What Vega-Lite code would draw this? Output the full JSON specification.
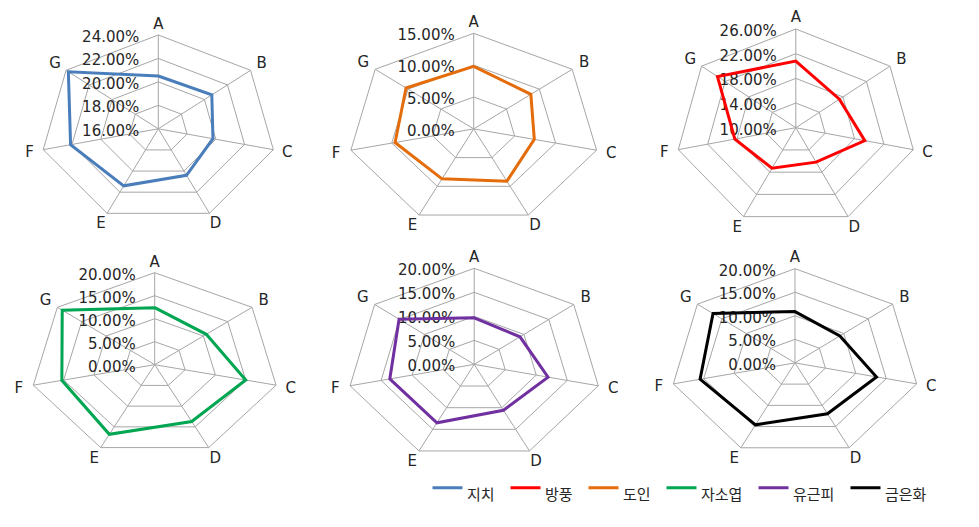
{
  "$schema": "https://vega.github.io/schema/vega-lite/v6.json",
  "padding": 0,
  "background": "white",
  "config": {
    "view": {"stroke": null},
    "legend": {
      "orient": "none",
      "legendX": 431,
      "legendY": 471,
      "direction": "horizontal",
      "symbolType": "stroke",
      "symbolSize": 900,
      "symbolStrokeWidth": 3,
      "labelFont": "Noto Sans CJK KR",
      "labelFontSize": 15,
      "labelColor": "#262626",
      "labelOffset": 3,
      "columnPadding": 9,
      "labelBaseline": "top",
      "title": null
    },
    "text": {"font": "DejaVu Sans", "fontSize": 15, "color": "#262626"}
  },
  "datasets": {
    "vals": [
      {"s": "지치", "c": "A", "v": 0.205}, {"s": "지치", "c": "B", "v": 0.2064}, {"s": "지치", "c": "C", "v": 0.198}, {"s": "지치", "c": "D", "v": 0.204}, {"s": "지치", "c": "E", "v": 0.214}, {"s": "지치", "c": "F", "v": 0.221}, {"s": "지치", "c": "G", "v": 0.238},
      {"s": "도인", "c": "A", "v": 0.098}, {"s": "도인", "c": "B", "v": 0.087}, {"s": "도인", "c": "C", "v": 0.074}, {"s": "도인", "c": "D", "v": 0.091}, {"s": "도인", "c": "E", "v": 0.087}, {"s": "도인", "c": "F", "v": 0.096}, {"s": "도인", "c": "G", "v": 0.103},
      {"s": "방풍", "c": "A", "v": 0.208}, {"s": "방풍", "c": "B", "v": 0.174}, {"s": "방풍", "c": "C", "v": 0.194}, {"s": "방풍", "c": "D", "v": 0.162}, {"s": "방풍", "c": "E", "v": 0.173}, {"s": "방풍", "c": "F", "v": 0.183}, {"s": "방풍", "c": "G", "v": 0.233},
      {"s": "자소엽", "c": "A", "v": 0.124}, {"s": "자소엽", "c": "B", "v": 0.106}, {"s": "자소엽", "c": "C", "v": 0.150}, {"s": "자소엽", "c": "D", "v": 0.137}, {"s": "자소엽", "c": "E", "v": 0.168}, {"s": "자소엽", "c": "F", "v": 0.153}, {"s": "자소엽", "c": "G", "v": 0.190},
      {"s": "유근피", "c": "A", "v": 0.097}, {"s": "유근피", "c": "B", "v": 0.092}, {"s": "유근피", "c": "C", "v": 0.119}, {"s": "유근피", "c": "D", "v": 0.106}, {"s": "유근피", "c": "E", "v": 0.135}, {"s": "유근피", "c": "F", "v": 0.136}, {"s": "유근피", "c": "G", "v": 0.151},
      {"s": "금은화", "c": "A", "v": 0.109}, {"s": "금은화", "c": "B", "v": 0.092}, {"s": "금은화", "c": "C", "v": 0.134}, {"s": "금은화", "c": "D", "v": 0.120}, {"s": "금은화", "c": "E", "v": 0.146}, {"s": "금은화", "c": "F", "v": 0.156}, {"s": "금은화", "c": "G", "v": 0.168}
    ],
    "ticks": [
      {"s": "지치", "t": 0.16}, {"s": "지치", "t": 0.18}, {"s": "지치", "t": 0.20}, {"s": "지치", "t": 0.22}, {"s": "지치", "t": 0.24},
      {"s": "도인", "t": 0}, {"s": "도인", "t": 0.05}, {"s": "도인", "t": 0.10}, {"s": "도인", "t": 0.15},
      {"s": "방풍", "t": 0.10}, {"s": "방풍", "t": 0.14}, {"s": "방풍", "t": 0.18}, {"s": "방풍", "t": 0.22}, {"s": "방풍", "t": 0.26},
      {"s": "자소엽", "t": 0}, {"s": "자소엽", "t": 0.05}, {"s": "자소엽", "t": 0.10}, {"s": "자소엽", "t": 0.15}, {"s": "자소엽", "t": 0.20},
      {"s": "유근피", "t": 0}, {"s": "유근피", "t": 0.05}, {"s": "유근피", "t": 0.10}, {"s": "유근피", "t": 0.15}, {"s": "유근피", "t": 0.20},
      {"s": "금은화", "t": 0}, {"s": "금은화", "t": 0.05}, {"s": "금은화", "t": 0.10}, {"s": "금은화", "t": 0.15}, {"s": "금은화", "t": 0.20}
    ]
  },
  "vconcat": [
    {
      "hconcat": [
        {
          "width": 316, "height": 235,
          "encoding": {
            "x": {"field": "x", "type": "quantitative", "scale": {"domain": [-1.3415, 1.3364], "nice": false, "zero": false}, "axis": null},
            "y": {"field": "y", "type": "quantitative", "scale": {"domain": [-1.1322, 1.3731], "nice": false, "zero": false}, "axis": null}
          },
          "layer": [
            {"data": {"name": "ticks"},
             "transform": [{"filter": "datum.s === '지치' && datum.t > 0.16"}, {"calculate": "[0,1,2,3,4,5,6]", "as": "k"}, {"flatten": ["k"]}, {"calculate": "(datum.t - 0.16) / 0.08", "as": "f"}, {"calculate": "datum.f * sin(datum.k * 2 * PI / 7)", "as": "x"}, {"calculate": "datum.f * cos(datum.k * 2 * PI / 7)", "as": "y"}],
             "mark": {"type": "line", "interpolate": "linear-closed", "stroke": "#a6a6a6", "strokeWidth": 1},
             "encoding": {"detail": {"field": "t"}, "order": {"field": "k"}}},
            {"data": {"name": "vals"},
             "transform": [{"filter": "datum.s === '지치'"}, {"calculate": "indexof('ABCDEFG', datum.c) * 2 * PI / 7", "as": "a"}, {"calculate": "0", "as": "x"}, {"calculate": "0", "as": "y"}, {"calculate": "sin(datum.a)", "as": "x2"}, {"calculate": "cos(datum.a)", "as": "y2"}],
             "mark": {"type": "rule", "stroke": "#a6a6a6", "strokeWidth": 1},
             "encoding": {"x2": {"field": "x2"}, "y2": {"field": "y2"}}},
            {"data": {"name": "ticks"},
             "transform": [{"filter": "datum.s === '지치'"}, {"calculate": "0", "as": "x"}, {"calculate": "(datum.t - 0.16) / 0.08", "as": "y"}],
             "mark": {"type": "text", "align": "right", "baseline": "middle", "dx": -19, "dy": 2},
             "encoding": {"text": {"field": "t", "type": "quantitative", "format": ".2%"}}},
            {"data": {"name": "vals"},
             "transform": [{"filter": "datum.s === '지치'"}, {"calculate": "indexof('ABCDEFG', datum.c) * 2 * PI / 7", "as": "a"}, {"calculate": "1.12 * sin(datum.a)", "as": "x"}, {"calculate": "1.12 * cos(datum.a)", "as": "y"}],
             "mark": {"type": "text", "align": "center", "baseline": "middle"},
             "encoding": {"text": {"field": "c"}}},
            {"data": {"name": "vals"},
             "transform": [{"filter": "datum.s === '지치'"}, {"calculate": "indexof('ABCDEFG', datum.c)", "as": "i"}, {"calculate": "(datum.v - 0.16) / 0.08", "as": "f"}, {"calculate": "datum.f * sin(datum.i * 2 * PI / 7)", "as": "x"}, {"calculate": "datum.f * cos(datum.i * 2 * PI / 7)", "as": "y"}],
             "mark": {"type": "line", "interpolate": "linear-closed", "strokeWidth": 3},
             "encoding": {"order": {"field": "i"}, "color": {"field": "s", "type": "nominal", "title": null, "scale": {"domain": ["지치", "방풍", "도인", "자소엽", "유근피", "금은화"], "range": ["#4a7ebb", "#ff0000", "#e46c0a", "#00a651", "#7030a0", "#000000"]}}}}
          ]
        },
        {
          "width": 316, "height": 235,
          "encoding": {
            "x": {"field": "x", "type": "quantitative", "scale": {"domain": [-1.2516, 1.2563], "nice": false, "zero": false}, "axis": null},
            "y": {"field": "y", "type": "quantitative", "scale": {"domain": [-1.1098, 1.3483], "nice": false, "zero": false}, "axis": null}
          },
          "layer": [
            {"data": {"name": "ticks"},
             "transform": [{"filter": "datum.s === '도인' && datum.t > 0"}, {"calculate": "[0,1,2,3,4,5,6]", "as": "k"}, {"flatten": ["k"]}, {"calculate": "(datum.t - 0) / 0.15", "as": "f"}, {"calculate": "datum.f * sin(datum.k * 2 * PI / 7)", "as": "x"}, {"calculate": "datum.f * cos(datum.k * 2 * PI / 7)", "as": "y"}],
             "mark": {"type": "line", "interpolate": "linear-closed", "stroke": "#a6a6a6", "strokeWidth": 1},
             "encoding": {"detail": {"field": "t"}, "order": {"field": "k"}}},
            {"data": {"name": "vals"},
             "transform": [{"filter": "datum.s === '도인'"}, {"calculate": "indexof('ABCDEFG', datum.c) * 2 * PI / 7", "as": "a"}, {"calculate": "0", "as": "x"}, {"calculate": "0", "as": "y"}, {"calculate": "sin(datum.a)", "as": "x2"}, {"calculate": "cos(datum.a)", "as": "y2"}],
             "mark": {"type": "rule", "stroke": "#a6a6a6", "strokeWidth": 1},
             "encoding": {"x2": {"field": "x2"}, "y2": {"field": "y2"}}},
            {"data": {"name": "ticks"},
             "transform": [{"filter": "datum.s === '도인'"}, {"calculate": "0", "as": "x"}, {"calculate": "(datum.t - 0) / 0.15", "as": "y"}],
             "mark": {"type": "text", "align": "right", "baseline": "middle", "dx": -19, "dy": 2},
             "encoding": {"text": {"field": "t", "type": "quantitative", "format": ".2%"}}},
            {"data": {"name": "vals"},
             "transform": [{"filter": "datum.s === '도인'"}, {"calculate": "indexof('ABCDEFG', datum.c) * 2 * PI / 7", "as": "a"}, {"calculate": "1.12 * sin(datum.a)", "as": "x"}, {"calculate": "1.12 * cos(datum.a)", "as": "y"}],
             "mark": {"type": "text", "align": "center", "baseline": "middle"},
             "encoding": {"text": {"field": "c"}}},
            {"data": {"name": "vals"},
             "transform": [{"filter": "datum.s === '도인'"}, {"calculate": "indexof('ABCDEFG', datum.c)", "as": "i"}, {"calculate": "(datum.v - 0) / 0.15", "as": "f"}, {"calculate": "datum.f * sin(datum.i * 2 * PI / 7)", "as": "x"}, {"calculate": "datum.f * cos(datum.i * 2 * PI / 7)", "as": "y"}],
             "mark": {"type": "line", "interpolate": "linear-closed", "strokeWidth": 3},
             "encoding": {"order": {"field": "i"}, "color": {"field": "s", "type": "nominal", "title": null, "scale": {"domain": ["지치", "방풍", "도인", "자소엽", "유근피", "금은화"], "range": ["#4a7ebb", "#ff0000", "#e46c0a", "#00a651", "#7030a0", "#000000"]}}}}
          ]
        },
        {
          "width": 347, "height": 235,
          "encoding": {
            "x": {"field": "x", "type": "quantitative", "scale": {"domain": [-1.3593, 1.5203], "nice": false, "zero": false}, "axis": null},
            "y": {"field": "y", "type": "quantitative", "scale": {"domain": [-1.0871, 1.2938], "nice": false, "zero": false}, "axis": null}
          },
          "layer": [
            {"data": {"name": "ticks"},
             "transform": [{"filter": "datum.s === '방풍' && datum.t > 0.10"}, {"calculate": "[0,1,2,3,4,5,6]", "as": "k"}, {"flatten": ["k"]}, {"calculate": "(datum.t - 0.10) / 0.16", "as": "f"}, {"calculate": "datum.f * sin(datum.k * 2 * PI / 7)", "as": "x"}, {"calculate": "datum.f * cos(datum.k * 2 * PI / 7)", "as": "y"}],
             "mark": {"type": "line", "interpolate": "linear-closed", "stroke": "#a6a6a6", "strokeWidth": 1},
             "encoding": {"detail": {"field": "t"}, "order": {"field": "k"}}},
            {"data": {"name": "vals"},
             "transform": [{"filter": "datum.s === '방풍'"}, {"calculate": "indexof('ABCDEFG', datum.c) * 2 * PI / 7", "as": "a"}, {"calculate": "0", "as": "x"}, {"calculate": "0", "as": "y"}, {"calculate": "sin(datum.a)", "as": "x2"}, {"calculate": "cos(datum.a)", "as": "y2"}],
             "mark": {"type": "rule", "stroke": "#a6a6a6", "strokeWidth": 1},
             "encoding": {"x2": {"field": "x2"}, "y2": {"field": "y2"}}},
            {"data": {"name": "ticks"},
             "transform": [{"filter": "datum.s === '방풍'"}, {"calculate": "0", "as": "x"}, {"calculate": "(datum.t - 0.10) / 0.16", "as": "y"}],
             "mark": {"type": "text", "align": "right", "baseline": "middle", "dx": -19, "dy": 2},
             "encoding": {"text": {"field": "t", "type": "quantitative", "format": ".2%"}}},
            {"data": {"name": "vals"},
             "transform": [{"filter": "datum.s === '방풍'"}, {"calculate": "indexof('ABCDEFG', datum.c) * 2 * PI / 7", "as": "a"}, {"calculate": "1.12 * sin(datum.a)", "as": "x"}, {"calculate": "1.12 * cos(datum.a)", "as": "y"}],
             "mark": {"type": "text", "align": "center", "baseline": "middle"},
             "encoding": {"text": {"field": "c"}}},
            {"data": {"name": "vals"},
             "transform": [{"filter": "datum.s === '방풍'"}, {"calculate": "indexof('ABCDEFG', datum.c)", "as": "i"}, {"calculate": "(datum.v - 0.10) / 0.16", "as": "f"}, {"calculate": "datum.f * sin(datum.i * 2 * PI / 7)", "as": "x"}, {"calculate": "datum.f * cos(datum.i * 2 * PI / 7)", "as": "y"}],
             "mark": {"type": "line", "interpolate": "linear-closed", "strokeWidth": 3},
             "encoding": {"order": {"field": "i"}, "color": {"field": "s", "type": "nominal", "title": null, "scale": {"domain": ["지치", "방풍", "도인", "자소엽", "유근피", "금은화"], "range": ["#4a7ebb", "#ff0000", "#e46c0a", "#00a651", "#7030a0", "#000000"]}}}}
          ]
        }
      ],
      "spacing": 0
    },
    {
      "hconcat": [
        {
          "width": 316, "height": 235,
          "encoding": {
            "x": {"field": "x", "type": "quantitative", "scale": {"domain": [-1.2426, 1.2956], "nice": false, "zero": false}, "axis": null},
            "y": {"field": "y", "type": "quantitative", "scale": {"domain": [-1.1554, 1.3989], "nice": false, "zero": false}, "axis": null}
          },
          "layer": [
            {"data": {"name": "ticks"},
             "transform": [{"filter": "datum.s === '자소엽' && datum.t > 0"}, {"calculate": "[0,1,2,3,4,5,6]", "as": "k"}, {"flatten": ["k"]}, {"calculate": "datum.t / 0.2", "as": "f"}, {"calculate": "datum.f * sin(datum.k * 2 * PI / 7)", "as": "x"}, {"calculate": "datum.f * cos(datum.k * 2 * PI / 7)", "as": "y"}],
             "mark": {"type": "line", "interpolate": "linear-closed", "stroke": "#a6a6a6", "strokeWidth": 1},
             "encoding": {"detail": {"field": "t"}, "order": {"field": "k"}}},
            {"data": {"name": "vals"},
             "transform": [{"filter": "datum.s === '자소엽'"}, {"calculate": "indexof('ABCDEFG', datum.c) * 2 * PI / 7", "as": "a"}, {"calculate": "0", "as": "x"}, {"calculate": "0", "as": "y"}, {"calculate": "sin(datum.a)", "as": "x2"}, {"calculate": "cos(datum.a)", "as": "y2"}],
             "mark": {"type": "rule", "stroke": "#a6a6a6", "strokeWidth": 1},
             "encoding": {"x2": {"field": "x2"}, "y2": {"field": "y2"}}},
            {"data": {"name": "ticks"},
             "transform": [{"filter": "datum.s === '자소엽'"}, {"calculate": "0", "as": "x"}, {"calculate": "datum.t / 0.2", "as": "y"}],
             "mark": {"type": "text", "align": "right", "baseline": "middle", "dx": -19, "dy": 2},
             "encoding": {"text": {"field": "t", "type": "quantitative", "format": ".2%"}}},
            {"data": {"name": "vals"},
             "transform": [{"filter": "datum.s === '자소엽'"}, {"calculate": "indexof('ABCDEFG', datum.c) * 2 * PI / 7", "as": "a"}, {"calculate": "1.12 * sin(datum.a)", "as": "x"}, {"calculate": "1.12 * cos(datum.a)", "as": "y"}],
             "mark": {"type": "text", "align": "center", "baseline": "middle"},
             "encoding": {"text": {"field": "c"}}},
            {"data": {"name": "vals"},
             "transform": [{"filter": "datum.s === '자소엽'"}, {"calculate": "indexof('ABCDEFG', datum.c)", "as": "i"}, {"calculate": "datum.v / 0.2", "as": "f"}, {"calculate": "datum.f * sin(datum.i * 2 * PI / 7)", "as": "x"}, {"calculate": "datum.f * cos(datum.i * 2 * PI / 7)", "as": "y"}],
             "mark": {"type": "line", "interpolate": "linear-closed", "strokeWidth": 3},
             "encoding": {"order": {"field": "i"}, "color": {"field": "s", "type": "nominal", "title": null, "scale": {"domain": ["지치", "방풍", "도인", "자소엽", "유근피", "금은화"], "range": ["#4a7ebb", "#ff0000", "#e46c0a", "#00a651", "#7030a0", "#000000"]}}}}
          ]
        },
        {
          "width": 316, "height": 235,
          "encoding": {
            "x": {"field": "x", "type": "quantitative", "scale": {"domain": [-1.2427, 1.2396], "nice": false, "zero": false}, "axis": null},
            "y": {"field": "y", "type": "quantitative", "scale": {"domain": [-1.1093, 1.3361], "nice": false, "zero": false}, "axis": null}
          },
          "layer": [
            {"data": {"name": "ticks"},
             "transform": [{"filter": "datum.s === '유근피' && datum.t > 0"}, {"calculate": "[0,1,2,3,4,5,6]", "as": "k"}, {"flatten": ["k"]}, {"calculate": "datum.t / 0.2", "as": "f"}, {"calculate": "datum.f * sin(datum.k * 2 * PI / 7)", "as": "x"}, {"calculate": "datum.f * cos(datum.k * 2 * PI / 7)", "as": "y"}],
             "mark": {"type": "line", "interpolate": "linear-closed", "stroke": "#a6a6a6", "strokeWidth": 1},
             "encoding": {"detail": {"field": "t"}, "order": {"field": "k"}}},
            {"data": {"name": "vals"},
             "transform": [{"filter": "datum.s === '유근피'"}, {"calculate": "indexof('ABCDEFG', datum.c) * 2 * PI / 7", "as": "a"}, {"calculate": "0", "as": "x"}, {"calculate": "0", "as": "y"}, {"calculate": "sin(datum.a)", "as": "x2"}, {"calculate": "cos(datum.a)", "as": "y2"}],
             "mark": {"type": "rule", "stroke": "#a6a6a6", "strokeWidth": 1},
             "encoding": {"x2": {"field": "x2"}, "y2": {"field": "y2"}}},
            {"data": {"name": "ticks"},
             "transform": [{"filter": "datum.s === '유근피'"}, {"calculate": "0", "as": "x"}, {"calculate": "datum.t / 0.2", "as": "y"}],
             "mark": {"type": "text", "align": "right", "baseline": "middle", "dx": -19, "dy": 2},
             "encoding": {"text": {"field": "t", "type": "quantitative", "format": ".2%"}}},
            {"data": {"name": "vals"},
             "transform": [{"filter": "datum.s === '유근피'"}, {"calculate": "indexof('ABCDEFG', datum.c) * 2 * PI / 7", "as": "a"}, {"calculate": "1.12 * sin(datum.a)", "as": "x"}, {"calculate": "1.12 * cos(datum.a)", "as": "y"}],
             "mark": {"type": "text", "align": "center", "baseline": "middle"},
             "encoding": {"text": {"field": "c"}}},
            {"data": {"name": "vals"},
             "transform": [{"filter": "datum.s === '유근피'"}, {"calculate": "indexof('ABCDEFG', datum.c)", "as": "i"}, {"calculate": "datum.v / 0.2", "as": "f"}, {"calculate": "datum.f * sin(datum.i * 2 * PI / 7)", "as": "x"}, {"calculate": "datum.f * cos(datum.i * 2 * PI / 7)", "as": "y"}],
             "mark": {"type": "line", "interpolate": "linear-closed", "strokeWidth": 3},
             "encoding": {"order": {"field": "i"}, "color": {"field": "s", "type": "nominal", "title": null, "scale": {"domain": ["지치", "방풍", "도인", "자소엽", "유근피", "금은화"], "range": ["#4a7ebb", "#ff0000", "#e46c0a", "#00a651", "#7030a0", "#000000"]}}}}
          ]
        },
        {
          "width": 347, "height": 235,
          "encoding": {
            "x": {"field": "x", "type": "quantitative", "scale": {"domain": [-1.3061, 1.4744], "nice": false, "zero": false}, "axis": null},
            "y": {"field": "y", "type": "quantitative", "scale": {"domain": [-1.1476, 1.3471], "nice": false, "zero": false}, "axis": null}
          },
          "layer": [
            {"data": {"name": "ticks"},
             "transform": [{"filter": "datum.s === '금은화' && datum.t > 0"}, {"calculate": "[0,1,2,3,4,5,6]", "as": "k"}, {"flatten": ["k"]}, {"calculate": "datum.t / 0.2", "as": "f"}, {"calculate": "datum.f * sin(datum.k * 2 * PI / 7)", "as": "x"}, {"calculate": "datum.f * cos(datum.k * 2 * PI / 7)", "as": "y"}],
             "mark": {"type": "line", "interpolate": "linear-closed", "stroke": "#a6a6a6", "strokeWidth": 1},
             "encoding": {"detail": {"field": "t"}, "order": {"field": "k"}}},
            {"data": {"name": "vals"},
             "transform": [{"filter": "datum.s === '금은화'"}, {"calculate": "indexof('ABCDEFG', datum.c) * 2 * PI / 7", "as": "a"}, {"calculate": "0", "as": "x"}, {"calculate": "0", "as": "y"}, {"calculate": "sin(datum.a)", "as": "x2"}, {"calculate": "cos(datum.a)", "as": "y2"}],
             "mark": {"type": "rule", "stroke": "#a6a6a6", "strokeWidth": 1},
             "encoding": {"x2": {"field": "x2"}, "y2": {"field": "y2"}}},
            {"data": {"name": "ticks"},
             "transform": [{"filter": "datum.s === '금은화'"}, {"calculate": "0", "as": "x"}, {"calculate": "datum.t / 0.2", "as": "y"}],
             "mark": {"type": "text", "align": "right", "baseline": "middle", "dx": -19, "dy": 2},
             "encoding": {"text": {"field": "t", "type": "quantitative", "format": ".2%"}}},
            {"data": {"name": "vals"},
             "transform": [{"filter": "datum.s === '금은화'"}, {"calculate": "indexof('ABCDEFG', datum.c) * 2 * PI / 7", "as": "a"}, {"calculate": "1.12 * sin(datum.a)", "as": "x"}, {"calculate": "1.12 * cos(datum.a)", "as": "y"}],
             "mark": {"type": "text", "align": "center", "baseline": "middle"},
             "encoding": {"text": {"field": "c"}}},
            {"data": {"name": "vals"},
             "transform": [{"filter": "datum.s === '금은화'"}, {"calculate": "indexof('ABCDEFG', datum.c)", "as": "i"}, {"calculate": "datum.v / 0.2", "as": "f"}, {"calculate": "datum.f * sin(datum.i * 2 * PI / 7)", "as": "x"}, {"calculate": "datum.f * cos(datum.i * 2 * PI / 7)", "as": "y"}],
             "mark": {"type": "line", "interpolate": "linear-closed", "strokeWidth": 3},
             "encoding": {"order": {"field": "i"}, "color": {"field": "s", "type": "nominal", "title": null, "scale": {"domain": ["지치", "방풍", "도인", "자소엽", "유근피", "금은화"], "range": ["#4a7ebb", "#ff0000", "#e46c0a", "#00a651", "#7030a0", "#000000"]}}}}
          ]
        }
      ],
      "spacing": 0
    }
  ],
  "spacing": 0
}
